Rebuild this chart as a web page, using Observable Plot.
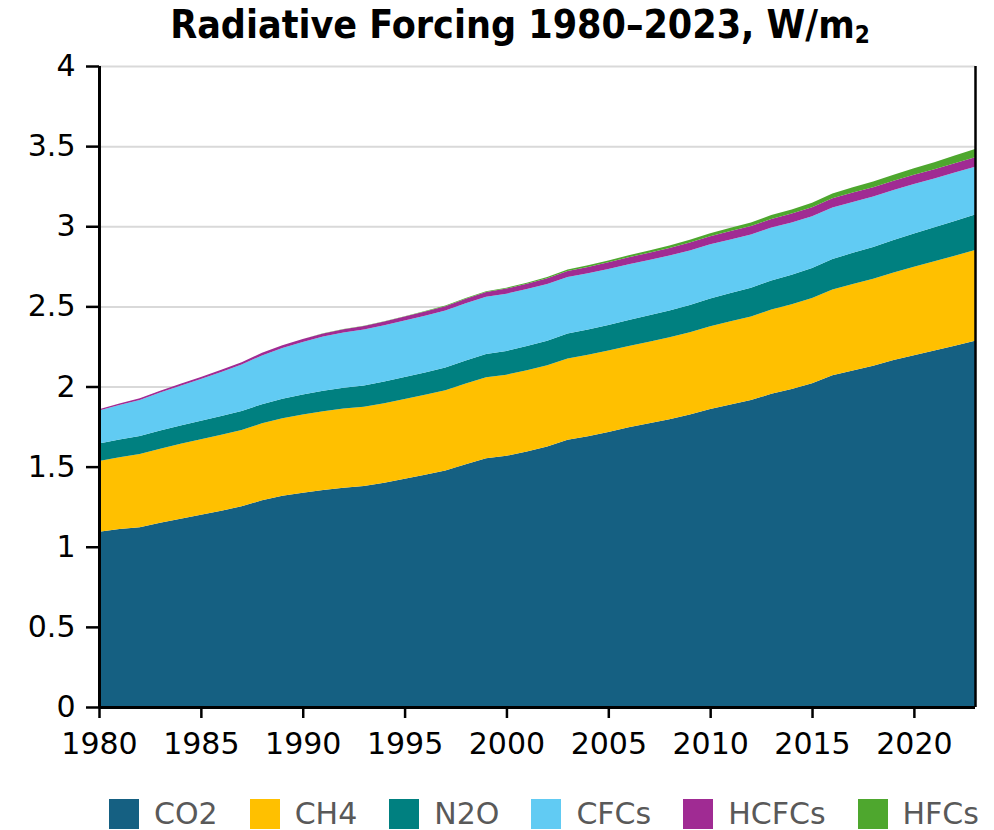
<!DOCTYPE html>
<html>
<head>
<meta charset="utf-8">
<script src="https://cdn.jsdelivr.net/npm/d3@7"></script>
<script src="https://cdn.jsdelivr.net/npm/@observablehq/plot@0.6"></script>
<style>
  body { margin: 0; background: #fff; width: 994px; font-family: "DejaVu Sans", sans-serif; }
  #title { height: 46px; line-height: 46px; padding-top: 2px; padding-left: 46px; text-align: center; font-family: "Liberation Sans Narrow", "DejaVu Sans Condensed", sans-serif; font-stretch: condensed; font-weight: bold; font-size: 39px; color: #000; white-space: nowrap; }
  #title sub { font-size: 0.62em; vertical-align: -0.22em; line-height: 0; }
  #chart svg { overflow: visible; display: block; }
  #legend { display: flex; align-items: center; padding-left: 109px; margin-top: 8px; height: 32px; }
  .item { display: flex; align-items: center; margin-right: 32px; }
  .sw { width: 30px; height: 30px; margin-right: 15px; }
  .lab { font-size: 30px; line-height: 32px; color: #595959; font-family: "DejaVu Sans", sans-serif; }
</style>
</head>
<body>
<div id="title">Radiative Forcing 1980–2023, W/m<sub>2</sub></div>
<div id="chart"></div>
<div id="legend"></div>
<script>
const years = [1980,1981,1982,1983,1984,1985,1986,1987,1988,1989,1990,1991,1992,1993,1994,1995,1996,1997,1998,1999,2000,2001,2002,2003,2004,2005,2006,2007,2008,2009,2010,2011,2012,2013,2014,2015,2016,2017,2018,2019,2020,2021,2022,2023];
const gases = ["CO2", "CH4", "N2O", "CFCs", "HCFCs", "HFCs"];
const colors = ["#156082", "#FFC000", "#008080", "#61CBF3", "#A02B93", "#4EA72E"];

const co2 = [1.094,1.110,1.122,1.150,1.175,1.200,1.225,1.252,1.290,1.318,1.337,1.354,1.368,1.379,1.400,1.425,1.450,1.476,1.515,1.552,1.568,1.595,1.625,1.667,1.690,1.716,1.745,1.770,1.796,1.825,1.860,1.888,1.915,1.955,1.985,2.020,2.070,2.100,2.130,2.165,2.195,2.225,2.255,2.286];
const ch4 = [0.441,0.449,0.457,0.462,0.467,0.471,0.474,0.477,0.480,0.484,0.488,0.492,0.494,0.495,0.496,0.497,0.498,0.500,0.503,0.505,0.506,0.507,0.508,0.508,0.508,0.508,0.508,0.509,0.511,0.513,0.516,0.519,0.522,0.525,0.528,0.532,0.536,0.540,0.543,0.547,0.552,0.556,0.561,0.566];
const n2o = [0.110,0.111,0.112,0.113,0.114,0.115,0.117,0.118,0.120,0.122,0.125,0.128,0.130,0.133,0.135,0.137,0.139,0.142,0.144,0.146,0.148,0.150,0.152,0.155,0.157,0.160,0.162,0.165,0.167,0.170,0.173,0.176,0.179,0.182,0.184,0.187,0.190,0.194,0.198,0.202,0.207,0.212,0.217,0.222];
const cfcs = [0.205,0.215,0.225,0.237,0.249,0.261,0.274,0.290,0.304,0.316,0.328,0.338,0.345,0.349,0.351,0.353,0.355,0.356,0.357,0.357,0.357,0.356,0.355,0.354,0.352,0.350,0.348,0.346,0.343,0.341,0.338,0.335,0.332,0.330,0.327,0.324,0.321,0.318,0.315,0.312,0.309,0.305,0.302,0.298];
const hcfcs = [0.008,0.009,0.010,0.011,0.012,0.013,0.014,0.015,0.016,0.017,0.018,0.019,0.021,0.022,0.023,0.025,0.026,0.027,0.029,0.030,0.032,0.033,0.035,0.037,0.039,0.041,0.043,0.045,0.047,0.049,0.050,0.052,0.053,0.054,0.055,0.056,0.057,0.058,0.058,0.058,0.058,0.058,0.058,0.058];
const hfcs = [0.000,0.000,0.000,0.000,0.000,0.000,0.000,0.000,0.000,0.000,0.001,0.001,0.001,0.001,0.002,0.002,0.003,0.004,0.004,0.005,0.006,0.007,0.008,0.009,0.010,0.011,0.013,0.014,0.016,0.017,0.019,0.020,0.022,0.024,0.026,0.028,0.030,0.033,0.035,0.038,0.041,0.044,0.048,0.052];

const yTicks = [0, 0.5, 1, 1.5, 2, 2.5, 3, 3.5, 4];
const xTicks = [1980, 1985, 1990, 1995, 2000, 2005, 2010, 2015, 2020];

const seriesValues = [co2, ch4, n2o, cfcs, hcfcs, hfcs];
const data = [];
gases.forEach((g, gi) => {
  years.forEach((y, i) => data.push({year: y, gas: g, value: seriesValues[gi][i]}));
});

const plot = Plot.plot({
  width: 994,
  height: 742,
  marginLeft: 99,
  marginRight: 19,
  marginTop: 18,
  marginBottom: 83,
  style: {fontFamily: "'DejaVu Sans', sans-serif", fontSize: "30px", color: "#000", background: "#fff", overflow: "visible"},
  x: {domain: [1980, 2023], axis: null, label: null},
  y: {domain: [0, 4], axis: null, label: null},
  color: {domain: gases, range: colors},
  marks: [
    Plot.gridY(yTicks, {stroke: "#d9d9d9", strokeOpacity: 1, strokeWidth: 2}),
    Plot.areaY(data, {x: "year", y: "value", fill: "gas", z: "gas", order: gases, curve: "linear"}),
    Plot.ruleX([1980], {stroke: "#000", strokeWidth: 3}),
    Plot.ruleX([2023], {stroke: "#000", strokeWidth: 2.5}),
    Plot.ruleY([0], {stroke: "#000", strokeWidth: 3}),
    Plot.axisY(yTicks, {tickSize: 13, tickPadding: 11, strokeWidth: 2.5, fontSize: 30, label: null, tickFormat: d => String(d)}),
    Plot.axisX(xTicks, {tickSize: 11, tickPadding: 14, strokeWidth: 2.5, fontSize: 30, label: null, tickFormat: d => String(d)})
  ]
});
document.getElementById("chart").appendChild(plot);

const legend = document.getElementById("legend");
gases.forEach((g, i) => {
  const item = document.createElement("div");
  item.className = "item";
  const sw = document.createElement("div");
  sw.className = "sw";
  sw.style.background = colors[i];
  const lab = document.createElement("span");
  lab.className = "lab";
  lab.textContent = g;
  item.appendChild(sw);
  item.appendChild(lab);
  legend.appendChild(item);
});
</script>
</body>
</html>
